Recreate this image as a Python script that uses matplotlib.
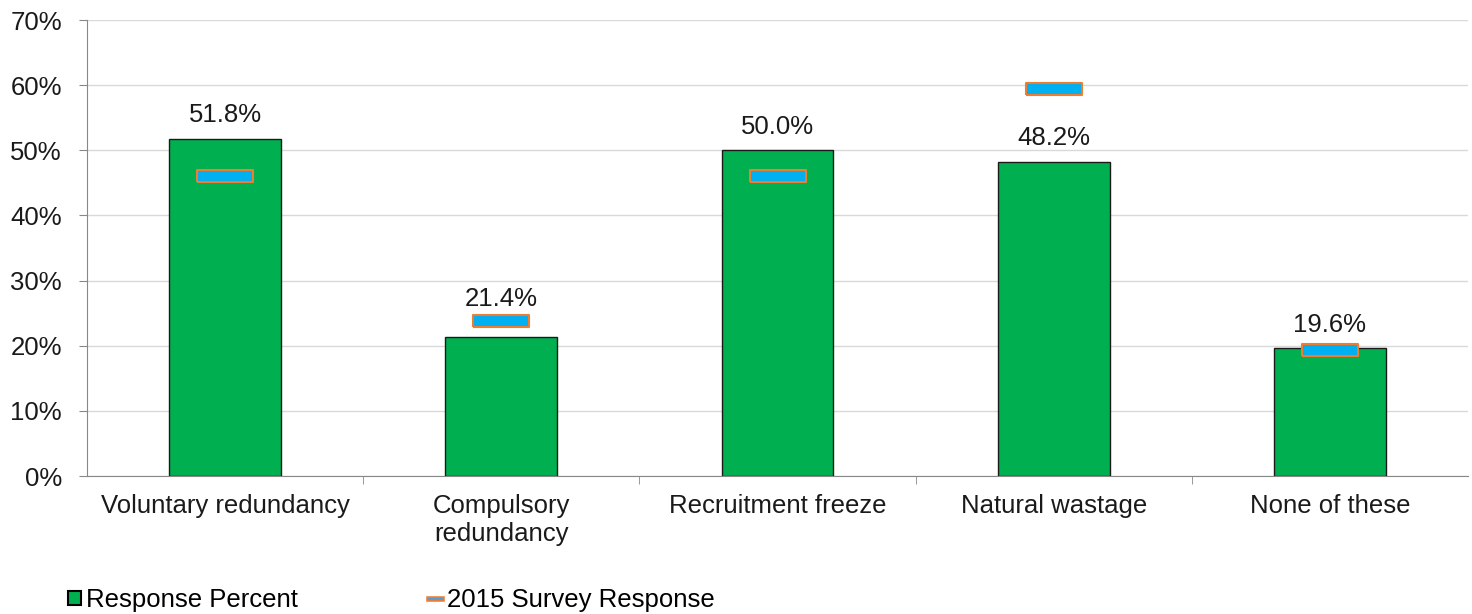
import matplotlib
matplotlib.use("Agg")
import matplotlib.pyplot as plt
from matplotlib.lines import Line2D
from matplotlib.patches import Patch
import numpy as np

plt.rcParams['font.family'] = ['Liberation Sans', 'DejaVu Sans']

categories = ["Voluntary redundancy", "Compulsory\nredundancy", "Recruitment freeze",
              "Natural wastage", "None of these"]
response_percent = [51.8, 21.4, 50.0, 48.2, 19.6]
survey_2015 = [46.0, 23.8, 46.0, 59.4, 19.3]
y_ticks = [0, 10, 20, 30, 40, 50, 60, 70]

FS = 18.5
fig = plt.figure(figsize=(14.72, 6.14), dpi=100)
ax = fig.add_axes([87/1472, 1-476/614, (1468-87)/1472, (476-20)/614])

x = np.arange(len(categories))
ax.bar(x, response_percent, width=0.405, color='#00B050', edgecolor='#1a1a1a',
       linewidth=1.0, zorder=2, label='Response Percent')
for xi, v, m in zip(x, response_percent, survey_2015):
    # label sits above the bar, or above the 2015 marker if that marker sits just above the bar
    if 0 < m - v < 5:
        anchor, off = m, 11
    else:
        anchor, off = v, 12
    ax.annotate(f"{v:.1f}%", (xi, anchor), xytext=(0, off), textcoords='offset points',
                ha='center', va='baseline', fontsize=FS, color='#1a1a1a')

rect = [(-2.4, -0.5), (2.4, -0.5), (2.4, 0.5), (-2.4, 0.5), (-2.4, -0.5)]
ax.plot(x, survey_2015, linestyle='none', marker=rect, markersize=41,
        markerfacecolor='#00B0F0', markeredgecolor='#ED7D31', markeredgewidth=1.5,
        zorder=3)

ax.set_xlim(-0.5, len(categories) - 0.5)
ax.set_ylim(0, 70)
ax.set_yticks(y_ticks)
ax.set_yticklabels([f"{t}%" for t in y_ticks], fontsize=FS, color='#1a1a1a')
ax.set_xticks(x)
ax.set_xticklabels(categories, fontsize=FS, va='top', color='#1a1a1a')
ax.tick_params(axis='x', length=0, pad=13)
ax.tick_params(axis='y', length=6, color='#888888', pad=12)
ax.set_xticks(np.arange(0.5, len(categories) - 1, 1), minor=True)
ax.tick_params(axis='x', which='minor', length=6, color='#888888')
ax.grid(axis='y', color='#d9d9d9', linewidth=1, zorder=0)
ax.set_axisbelow(True)
for s in ['top', 'right']:
    ax.spines[s].set_visible(False)
ax.spines['left'].set_color('#888888')
ax.spines['bottom'].set_color('#888888')

handles = [Patch(facecolor='#00B050', edgecolor='black', linewidth=1.5, label='Response Percent'),
           (Line2D([0], [0], color='#ED7D31', linewidth=4),
            Line2D([0], [0], color='#5B9BD5', linewidth=1.5))]
labels = ['Response Percent', '2015 Survey Response']
fig.legend(handles=handles, labels=labels, loc='center left',
           bbox_to_anchor=(68/1472, 1-600/614), ncol=2,
           frameon=False, fontsize=FS, handlelength=0.5, handleheight=0.5,
           handletextpad=0.2, columnspacing=5.1, borderpad=0, borderaxespad=0)

fig.savefig("out.png", dpi=100)
